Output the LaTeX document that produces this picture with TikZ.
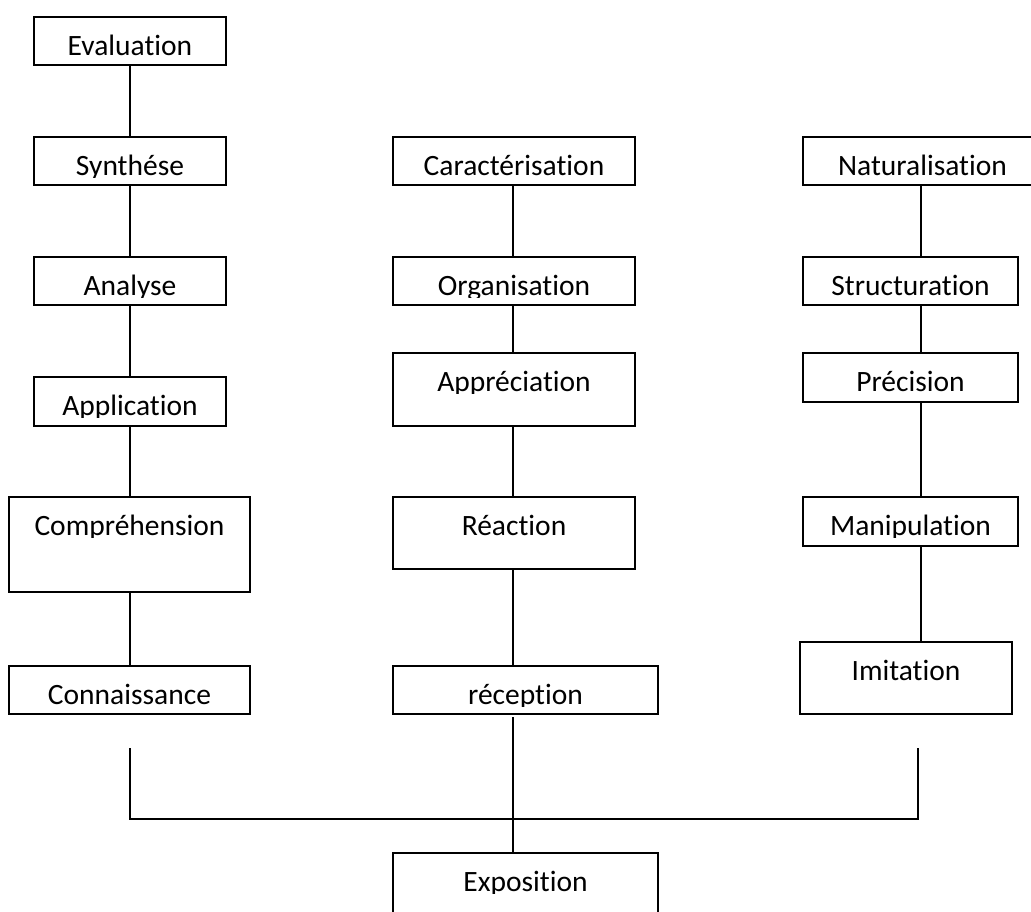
\documentclass[tikz,border=0pt]{standalone}
\usepackage{fontspec}
\setmainfont{Carlito}[Ligatures=NoCommon]
\tikzset{
  box/.style={draw=black, line width=1.8pt, inner sep=0pt, outer sep=0pt, rectangle},
  lbl/.style={font=\fontsize{29.5}{31}\selectfont, anchor=base, inner sep=0pt, text=black},
  conn/.style={draw=black, line width=1.8pt},
}
\newcommand\bx[6]{%
  \pgfmathsetmacro\bxw{#4-#2}\pgfmathsetmacro\bxh{#5-#3}%
  \pgfmathsetmacro\bxc{min(#5-8,#3+40)}%
  \pgfmathsetmacro\bxm{(#2+#4)/2}\pgfmathsetmacro\bxb{#3+38}%
  \node[box, minimum width=\bxw pt, minimum height=\bxh pt, anchor=north west] (#1) at (#2,#3) {};
  \begin{scope}
    \clip (#2,#3) rectangle (#4,\bxc);
    \node[lbl] (#1-t) at (\bxm,\bxb) {#6};
  \end{scope}}
\begin{document}
\begin{tikzpicture}[x=1pt,y=-1pt]
\fill[white] (0,0) rectangle (1031,911);
\path[use as bounding box] (0,0) rectangle (1031,911);
% left column
\bx{eva}{34}{17}{226}{65}{Evaluation}
\bx{syn}{34}{137}{226}{185}{Synthése}
\bx{ana}{34}{257}{226}{305}{Analyse}
\bx{apl}{34}{377}{226}{426}{Application}
\bx{com}{9}{497}{250}{592}{Compréhension}
\bx{con}{9}{666}{250}{714}{Connaissance}
% middle column
\bx{car}{393}{137}{635}{185}{Caractérisation}
\bx{org}{393}{257}{635}{305}{Organisation}
\bx{apr}{393}{353}{635}{426}{Appréciation}
\bx{rea}{393}{497}{635}{569}{Réaction}
\bx{rec}{393}{666}{658}{714}{réception}
% right column
\bx{nat}{803}{137}{1042}{185}{Naturalisation}
\bx{str}{803}{257}{1018}{305}{Structuration}
\bx{pre}{803}{353}{1018}{402}{Précision}
\bx{man}{803}{497}{1018}{546}{Manipulation}
\bx{imi}{800}{642}{1012}{714}{Imitation}
% bottom
\bx{exp}{393}{853}{658}{960}{Exposition}
% connectors
\coordinate (lx) at (130,0);
\coordinate (mx) at (513,0);
\coordinate (rx) at (921,0);
\foreach \a/\b in {eva/syn, syn/ana, ana/apl, apl/com, com/con}
  \draw[conn] (\a.south -| lx) -- (\b.north -| lx);
\foreach \a/\b in {car/org, org/apr, apr/rea, rea/rec}
  \draw[conn] (\a.south -| mx) -- (\b.north -| mx);
\foreach \a/\b in {nat/str, str/pre, pre/man, man/imi}
  \draw[conn] (\a.south -| rx) -- (\b.north -| rx);
\draw[conn] ([yshift=-3pt]rec.south -| mx) -- (exp.north -| mx);
\coordinate (bl) at (130,748);
\coordinate (br) at (918,748);
\draw[conn] (bl) -- ++(0,71) -| (br);
\end{tikzpicture}
\end{document}
